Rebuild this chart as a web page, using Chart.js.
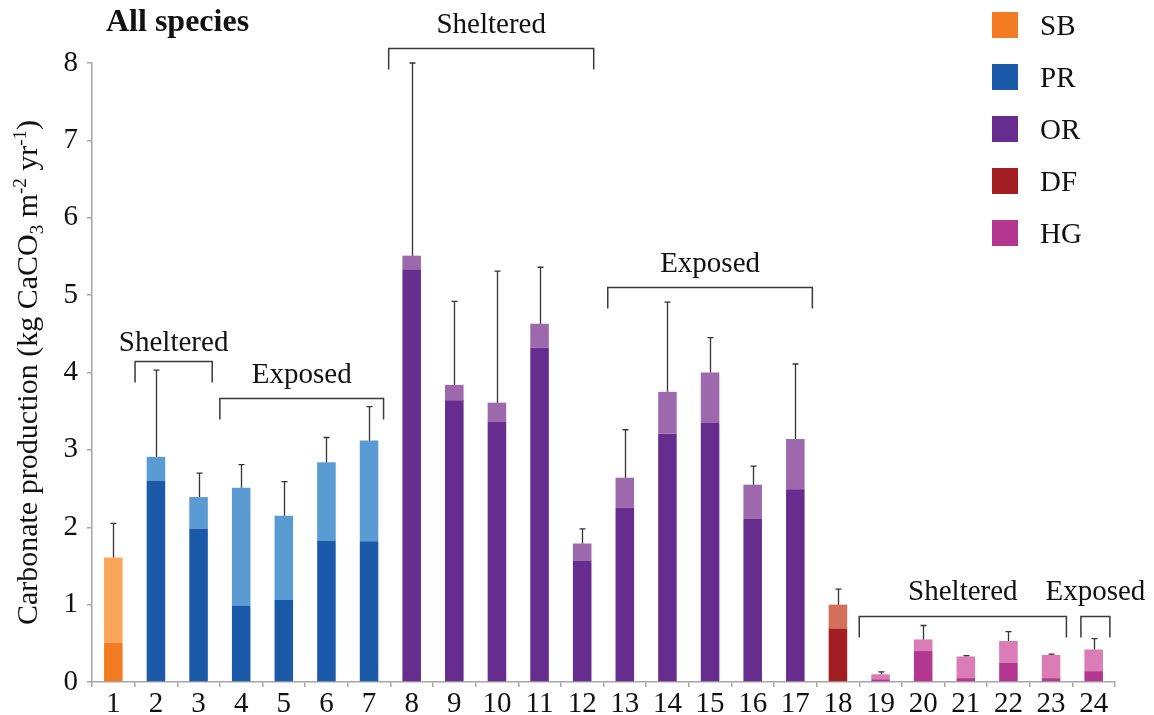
<!DOCTYPE html>
<html>
<head>
<meta charset="utf-8">
<script src="https://cdn.jsdelivr.net/npm/chart.js@4/dist/chart.umd.min.js"></script>
<style>
  html, body { margin: 0; padding: 0; background: #ffffff; }
  #wrap { width: 1154px; height: 715px; }
</style>
</head>
<body>
<div id="wrap"><canvas id="chart" width="1154" height="715"></canvas></div>
<script>
// Sites along the x axis
const sites = ['1','2','3','4','5','6','7','8','9','10','11','12','13','14','15','16','17','18','19','20','21','22','23','24'];

// Species group of each site
const siteGroup = ['SB','PR','PR','PR','PR','PR','PR','OR','OR','OR','OR','OR','OR','OR','OR','OR','OR','DF','HG','HG','HG','HG','HG','HG'];

// Lower (dark) and upper (light) components of carbonate production, kg CaCO3 m-2 yr-1
const lowerPart = [0.51, 2.60, 1.98, 0.99, 1.06, 1.83, 1.82, 5.33, 3.64, 3.36, 4.32, 1.57, 2.25, 3.21, 3.35, 2.11, 2.49, 0.69, 0.035, 0.40, 0.05, 0.25, 0.05, 0.14];
const upperPart = [1.10, 0.31, 0.41, 1.52, 1.09, 1.01, 1.30, 0.18, 0.20, 0.25, 0.31, 0.22, 0.39, 0.54, 0.65, 0.44, 0.65, 0.31, 0.065, 0.15, 0.28, 0.28, 0.30, 0.28];

// Standard deviation of the total (upper whisker only)
const errorSD = [0.44, 1.12, 0.31, 0.30, 0.44, 0.32, 0.44, 2.49, 1.08, 1.70, 0.73, 0.19, 0.62, 1.16, 0.45, 0.24, 0.97, 0.20, 0.03, 0.18, 0.01, 0.12, 0.01, 0.14];

// Legend groups and colours
const groupNames = ['SB', 'PR', 'OR', 'DF', 'HG'];
const groupDark  = ['#F37C22', '#1B5AA9', '#662D8F', '#A21E23', '#B4378F'];
const groupLight = ['#F9A65B', '#5B9BD3', '#9D68AC', '#D3705A', '#DA7DB6'];

// y axis ticks
const yTickValues = [0, 1, 2, 3, 4, 5, 6, 7, 8];

// Exposure brackets: span in site units, level in y units
const bracketLabels = ['Sheltered', 'Exposed', 'Sheltered', 'Exposed', 'Sheltered', 'Exposed'];
const bracketFrom   = [1.51, 3.50, 7.46, 12.60, 18.50, 23.70];
const bracketTo     = [3.32, 7.34, 12.27, 17.40, 23.36, 24.38];
const bracketLevel  = [4.155, 3.676, 8.19, 5.105, 0.854, 0.854];
const bracketGap    = [11, 16, 16, 16, 17, 17];

const SERIF = '"Liberation Serif", "Times New Roman", serif';

const darkColors  = siteGroup.map(g => groupDark[groupNames.indexOf(g)]);
const lightColors = siteGroup.map(g => groupLight[groupNames.indexOf(g)]);

function sitePixel(xs, k) {
  const p0 = xs.getPixelForValue(0);
  const step = xs.getPixelForValue(1) - p0;
  return p0 + (k - 1) * step;
}

const errorBars = {
  id: 'errorBars',
  afterDatasetsDraw(chart) {
    const { ctx, scales: { x, y } } = chart;
    ctx.save();
    ctx.strokeStyle = '#333333';
    ctx.lineWidth = 1.3;
    for (let i = 0; i < sites.length; i++) {
      const total = lowerPart[i] + upperPart[i];
      const px = Math.round(x.getPixelForValue(i)) + 0.5;
      const yb = y.getPixelForValue(total);
      const yt = y.getPixelForValue(total + errorSD[i]);
      ctx.beginPath();
      ctx.moveTo(px, yb);
      ctx.lineTo(px, yt);
      ctx.moveTo(px - 3, yt);
      ctx.lineTo(px + 3, yt);
      ctx.stroke();
    }
    ctx.restore();
  }
};

const annotations = {
  id: 'annotations',
  afterDraw(chart) {
    const { ctx, scales: { x, y } } = chart;
    ctx.save();

    // Brackets
    ctx.strokeStyle = '#3a3a3a';
    ctx.lineWidth = 1.5;
    ctx.fillStyle = '#111111';
    ctx.font = '29px ' + SERIF;
    ctx.textAlign = 'center';
    ctx.textBaseline = 'alphabetic';
    for (let b = 0; b < bracketLabels.length; b++) {
      const x0 = sitePixel(x, bracketFrom[b]);
      const x1 = sitePixel(x, bracketTo[b]);
      const yy = Math.round(y.getPixelForValue(bracketLevel[b])) + 0.5;
      ctx.beginPath();
      ctx.moveTo(x0, yy + 21);
      ctx.lineTo(x0, yy);
      ctx.lineTo(x1, yy);
      ctx.lineTo(x1, yy + 21);
      ctx.stroke();
      ctx.fillText(bracketLabels[b], (x0 + x1) / 2, yy - bracketGap[b]);
    }

    // Panel title
    ctx.textAlign = 'left';
    ctx.font = 'bold 32px ' + SERIF;
    ctx.fillText('All species', 106, 31);

    // Legend
    ctx.font = '29px ' + SERIF;
    for (let g = 0; g < groupNames.length; g++) {
      const cy = 25 + g * 52;
      ctx.fillStyle = groupDark[g];
      ctx.fillRect(992, cy - 13, 26, 26);
      ctx.fillStyle = '#111111';
      ctx.fillText(groupNames[g], 1040, cy + 10);
    }

    // y axis title with sub/superscripts
    const big = 30, small = 19;
    const parts = [
      { t: 'Carbonate production (kg CaCO', s: big, dy: 0 },
      { t: '3', s: small, dy: 6 },
      { t: ' m', s: big, dy: 0 },
      { t: '-2', s: small, dy: -11 },
      { t: ' yr', s: big, dy: 0 },
      { t: '-1', s: small, dy: -11 },
      { t: ')', s: big, dy: 0 }
    ];
    let total = 0;
    parts.forEach(p => { ctx.font = p.s + 'px ' + SERIF; p.w = ctx.measureText(p.t).width; total += p.w; });
    ctx.translate(37, 372.5);
    ctx.rotate(-Math.PI / 2);
    let cx = -total / 2;
    ctx.fillStyle = '#111111';
    parts.forEach(p => {
      ctx.font = p.s + 'px ' + SERIF;
      ctx.fillText(p.t, cx, p.dy);
      cx += p.w;
    });
    ctx.restore();
  }
};

new Chart(document.getElementById('chart'), {
  type: 'bar',
  data: {
    labels: sites,
    datasets: [
      { label: 'lower', data: lowerPart, backgroundColor: darkColors, borderWidth: 0,
        barPercentage: 0.435, categoryPercentage: 1.0 },
      { label: 'upper', data: upperPart, backgroundColor: lightColors, borderWidth: 0,
        barPercentage: 0.435, categoryPercentage: 1.0 }
    ]
  },
  options: {
    responsive: false,
    animation: false,
    devicePixelRatio: 1,
    layout: { padding: { left: 0, right: 39, top: 63, bottom: 0 } },
    plugins: {
      legend: { display: false },
      tooltip: { enabled: false }
    },
    scales: {
      x: {
        stacked: true,
        offset: true,
        grid: { offset: true, drawOnChartArea: false, drawTicks: true, tickLength: 5,
                color: '#A6A6A6', lineWidth: 1.5 },
        border: { display: true, color: '#A6A6A6', width: 1.5 },
        ticks: { color: '#111111', padding: 0, maxRotation: 0, autoSkip: false,
                 font: { family: SERIF, size: 29 } },
        afterFit(scale) { scale.height = 33; }
      },
      y: {
        stacked: true,
        min: 0,
        max: 8,
        afterBuildTicks(scale) { scale.ticks = yTickValues.map(v => ({ value: v })); },
        grid: { drawOnChartArea: false, drawTicks: true, tickLength: 5,
                color: '#A6A6A6', lineWidth: 1.5 },
        border: { display: true, color: '#A6A6A6', width: 1.5 },
        ticks: { color: '#111111', padding: 9, font: { family: SERIF, size: 29 } },
        afterFit(scale) { scale.width = 92; }
      }
    }
  },
  plugins: [errorBars, annotations]
});
</script>
</body>
</html>
